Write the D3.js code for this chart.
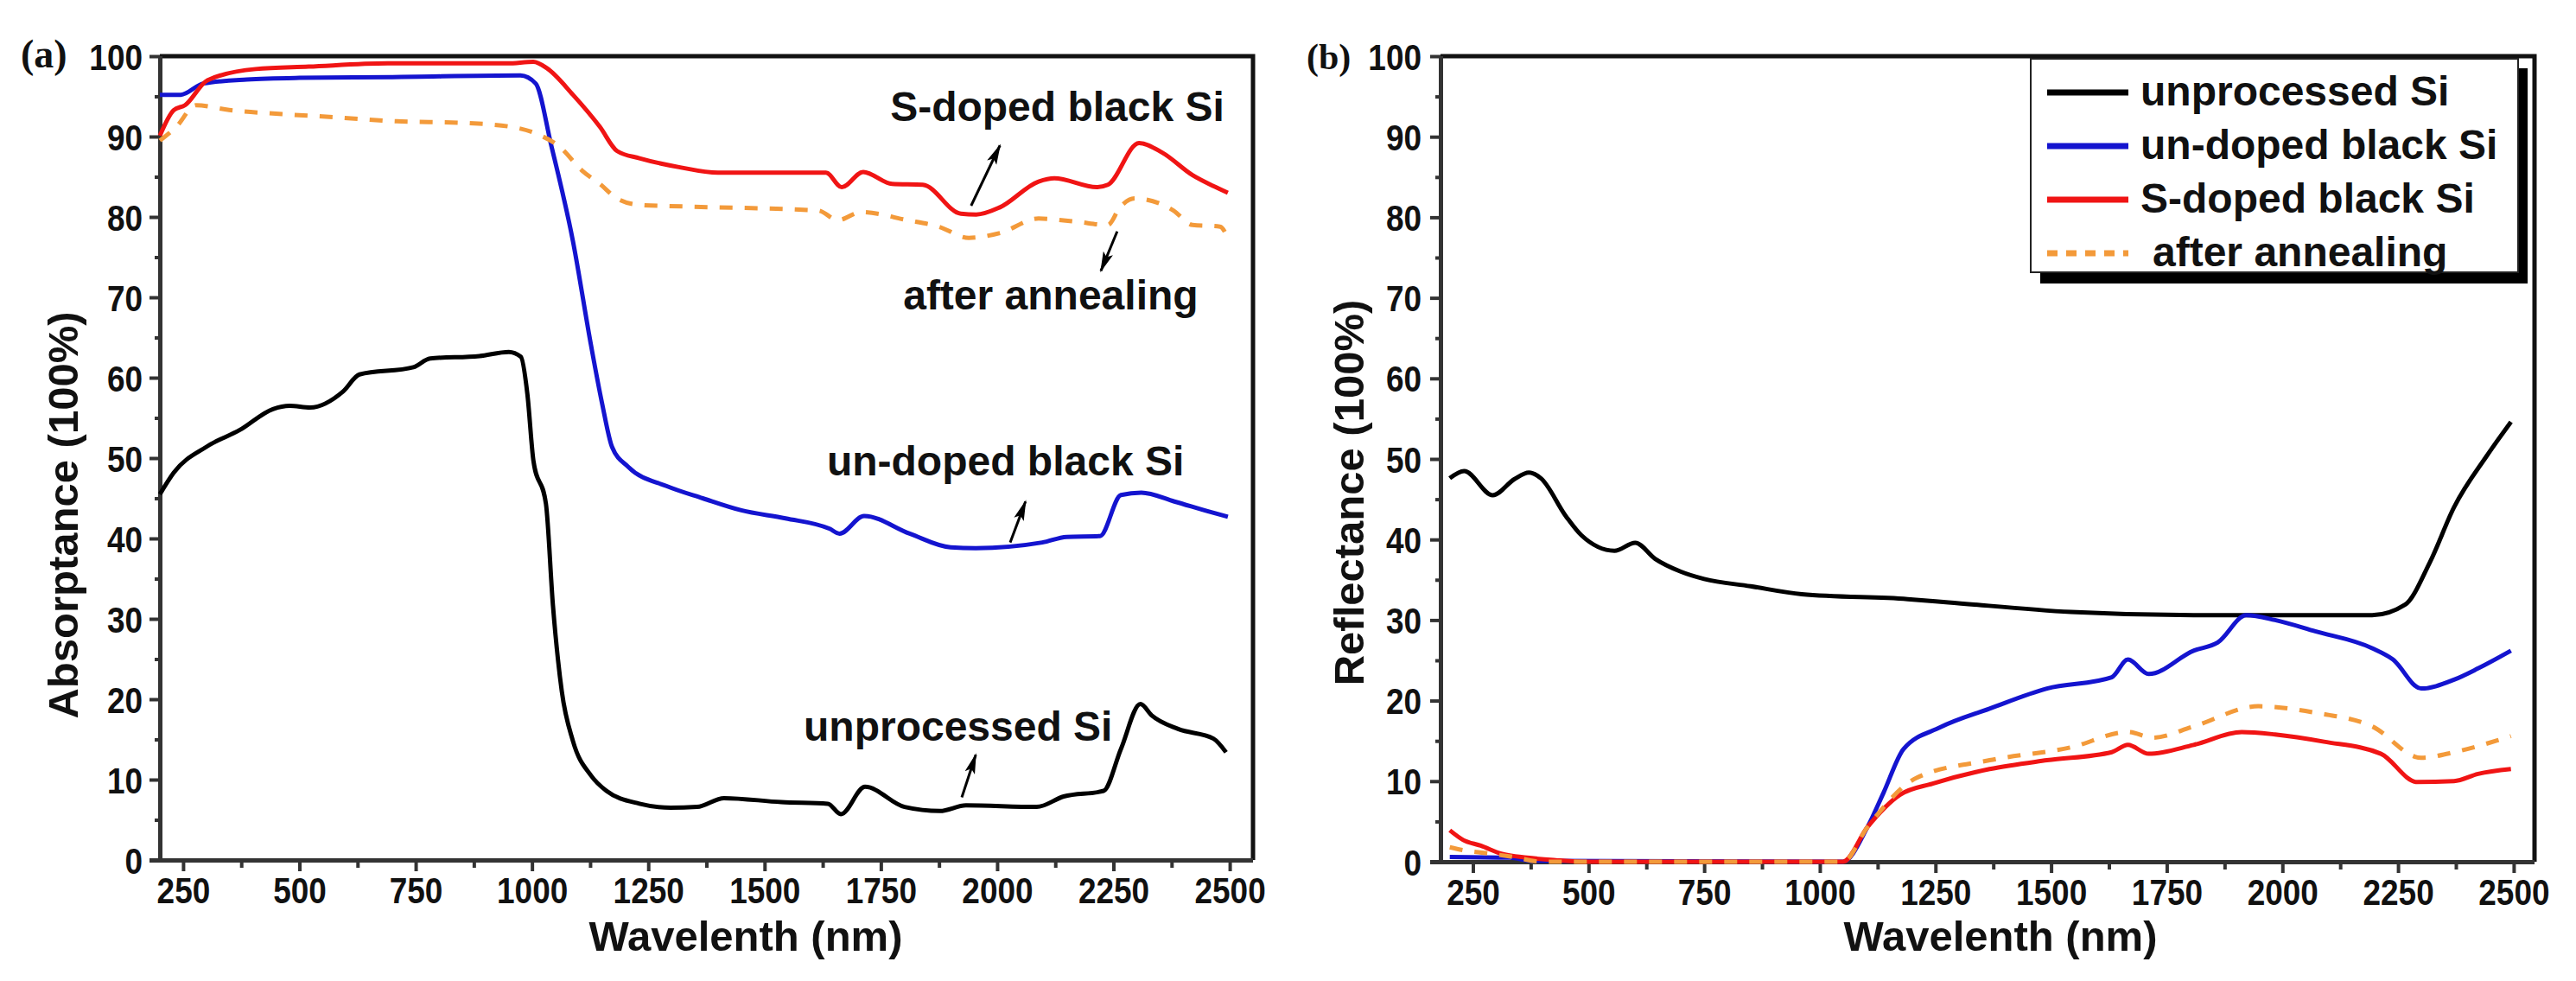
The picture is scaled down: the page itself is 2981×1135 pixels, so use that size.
<!DOCTYPE html>
<html><head><meta charset="utf-8">
<script src="https://cdn.jsdelivr.net/npm/d3@7/dist/d3.min.js"></script>
<style>body{margin:0;background:#fff}</style>
</head><body>
<svg id="c" width="2981" height="1135" xmlns="http://www.w3.org/2000/svg"></svg>
<script>
// ---------- DATA ----------
const xTicks = [250,500,750,1000,1250,1500,1750,2000,2250,2500];
const xMinorTicks = [375,625,875,1125,1375,1625,1875,2125,2375];
const yTicks = [0,10,20,30,40,50,60,70,80,90,100];
const yMinorTicks = [5,15,25,35,45,55,65,75,85,95];
const seriesNames = ["unprocessed Si","un-doped black Si","S-doped black Si","after annealing"];
const panelLabels = ["(a)","(b)"];
const xTitle = "Wavelenth (nm)";
const yTitles = ["Absorptance (100%)","Reflectance (100%)"];

// Panel (a): absorptance
const absUnprocessed = [[200,45.5],[230,48.2],[300,51.4],[372,53.5],[443,56.1],[479,56.5],[523,56.3],[594,58.3],[629,60.4],[745,61.3],[781,62.4],[887,62.7],[950,63.2],[976,62.6],[990,58],[1003,49.7],[1030,44.3],[1045,31.7],[1064,21],[1088,14.8],[1127,10.5],[1160,8.6],[1231,7.0],[1298,6.5],[1355,6.6],[1413,7.7],[1536,7.2],[1636,7.0],[1664,5.7],[1716,9.1],[1801,6.6],[1877,6.1],[1933,6.8],[2085,6.6],[2143,7.9],[2229,8.6],[2266,13.8],[2308,19.4],[2332,18.0],[2389,16.3],[2465,15.1],[2492,13.4]];
const absUndoped = [[200,95.2],[245,95.2],[293,96.6],[387,97.1],[500,97.3],[700,97.4],[975,97.6],[1008,96.6],[1041,89],[1088,77],[1127,64],[1150,57],[1172,51.4],[1207,48.9],[1290,46.5],[1367,45],[1450,43.5],[1545,42.5],[1640,41.2],[1661,40.6],[1714,42.8],[1812,40.6],[1900,38.9],[1954,38.8],[2097,39.5],[2149,40.2],[2221,40.3],[2266,45.4],[2310,45.7],[2381,44.6],[2452,43.4],[2496,42.7]];
const absSdoped = [[200,90.1],[230,93.3],[254,93.9],[302,97],[406,98.4],[520,98.7],[690,99.1],[947,99.1],[1003,99.3],[1032,98.5],[1088,95.2],[1146,91.2],[1183,88.2],[1231,87.3],[1316,86.2],[1400,85.5],[1632,85.5],[1666,83.7],[1712,85.6],[1774,84.1],[1840,84.0],[1922,80.4],[1955,80.3],[2006,81.2],[2089,84.4],[2123,84.8],[2214,83.7],[2238,84.0],[2305,89.2],[2355,88.0],[2420,85.2],[2470,83.7],[2496,83.0]];
const absAnnealed = [[200,89.5],[235,91.2],[278,93.9],[349,93.3],[463,92.8],[577,92.4],[709,91.9],[852,91.7],[956,91.2],[1012,90.3],[1060,88.7],[1107,85.8],[1146,84.1],[1183,82.3],[1231,81.5],[1326,81.3],[1615,80.8],[1658,79.6],[1707,80.6],[1807,79.6],[1874,78.8],[1939,77.4],[2006,78.0],[2089,79.8],[2171,79.4],[2238,79.0],[2264,81.2],[2296,82.3],[2379,80.8],[2420,79.0],[2479,78.8],[2496,77.4]];

// Panel (b): reflectance
const refUnprocessed = [[200,47.6],[231,48.5],[293,45.5],[340,47.5],[371,48.3],[397,47.6],[451,42.9],[485,40.5],[556,38.6],[601,39.6],[644,37.6],[700,36],[750,35.1],[850,34.2],[961,33.2],[1190,32.6],[1278,32.2],[1543,31.0],[1808,30.6],[2194,30.6],[2265,31.9],[2319,37.2],[2371,44.0],[2442,50.4],[2494,54.6]];
const refUndoped = [[200,0.6],[330,0.5],[380,0.1],[1050,0],[1103,4.3],[1138,8.6],[1181,14.0],[1261,16.7],[1367,19.0],[1491,21.5],[1631,22.9],[1666,25.1],[1711,23.3],[1808,26.2],[1860,27.2],[1922,30.6],[1984,30.0],[2071,28.6],[2194,26.5],[2239,25.1],[2300,21.5],[2371,22.6],[2423,24.0],[2494,26.2]];
const refSdoped = [[200,3.9],[229,2.7],[267,2.0],[311,1.0],[367,0.5],[429,0.2],[500,0],[1050,0],[1103,4.3],[1173,8.3],[1244,9.7],[1367,11.5],[1491,12.6],[1631,13.6],[1666,14.5],[1711,13.4],[1808,14.5],[1912,16.1],[1984,15.8],[2090,14.9],[2213,13.4],[2291,9.9],[2371,10.0],[2423,10.9],[2494,11.5]];
const refAnnealed = [[200,1.8],[243,1.3],[274,1.1],[336,0.6],[400,0],[1050,0],[1103,4.3],[1209,10.4],[1367,12.6],[1543,14.2],[1666,16.1],[1720,15.4],[1808,16.8],[1948,19.3],[2071,18.5],[2194,16.8],[2300,12.9],[2371,13.6],[2494,15.6]];

// Annotations for panel (a): text anchor [nm,%], arrow start [nm,%], arrow tip [nm,%]
const annoLabels = ["S-doped black Si","after annealing","un-doped black Si","unprocessed Si"];
const annoText = [[1770,91.9],[1798,68.5],[1634,47.8],[1584,14.8]];
const annoFrom = [[1944,81.4],[2258,78.2],[2028,39.5],[1924,7.8]];
const annoTo   = [[2006,88.9],[2223,73.3],[2061,44.6],[1954,13.1]];

// ---------- STYLE ----------
const colors = ["#000000","#1414cf","#f01414","#f39a3a"];
const dashes = [null,null,null,"15,14"];
const SANS = "'Liberation Sans', Arial, Helvetica, sans-serif";
const SERIF = "'Liberation Serif', 'Times New Roman', serif";
const AX = "#333";

const svg = d3.select("#c");
const defs = svg.append("defs");
defs.append("marker").attr("id","ah").attr("markerUnits","userSpaceOnUse")
  .attr("viewBox","0 0 24 14").attr("markerWidth",24).attr("markerHeight",14)
  .attr("refX",22).attr("refY",7).attr("orient","auto")
  .append("path").attr("d","M0,1 L24,7 L0,13 L5,7 Z").attr("fill","#000");

function panel(cfg){
  const x = d3.scaleLinear().domain(cfg.xdom).range([cfg.left,cfg.right]);
  const y = d3.scaleLinear().domain([0,100]).range([cfg.bottom,cfg.top]);
  const g = svg.append("g");

  g.append("path").attr("d",`M${cfg.left},${cfg.top}H${cfg.right}V${cfg.bottom}`)
    .attr("fill","none").attr("stroke","#111").attr("stroke-width",5);

  g.append("g").attr("transform",`translate(0,${cfg.bottom})`)
    .call(d3.axisBottom(x).tickValues(xMinorTicks).tickSize(9).tickFormat(""))
    .call(s=>{s.select(".domain").remove(); s.selectAll("line").attr("stroke",AX).attr("stroke-width",4);});
  g.append("g").attr("transform",`translate(${cfg.left},0)`)
    .call(d3.axisLeft(y).tickValues(yMinorTicks).tickSize(6).tickFormat(""))
    .call(s=>{s.select(".domain").remove(); s.selectAll("line").attr("stroke",AX).attr("stroke-width",4);});

  const xa = g.append("g").attr("transform",`translate(0,${cfg.bottom})`)
    .call(d3.axisBottom(x).tickValues(xTicks).tickFormat(d3.format("d"))
      .tickSizeInner(13).tickSizeOuter(0).tickPadding(7));
  xa.select(".domain").attr("stroke",AX).attr("stroke-width",5)
    .attr("d",`M${cfg.left-12},0.5H${cfg.right}`);
  xa.selectAll("line").attr("stroke",AX).attr("stroke-width",4);
  xa.selectAll("text").attr("font-family",SANS).attr("font-weight","bold").attr("font-size",42)
    .attr("fill","#111").attr("transform","scale(0.88,1)");

  const ya = g.append("g").attr("transform",`translate(${cfg.left},0)`)
    .call(d3.axisLeft(y).tickValues(yTicks).tickFormat(d3.format("d"))
      .tickSizeInner(12).tickSizeOuter(0).tickPadding(8));
  ya.select(".domain").attr("stroke",AX).attr("stroke-width",5)
    .attr("d",`M0.5,${cfg.bottom}V${cfg.top}`);
  ya.selectAll("line").attr("stroke",AX).attr("stroke-width",4);
  ya.selectAll("text").attr("font-family",SANS).attr("font-weight","bold").attr("font-size",42)
    .attr("fill","#111").attr("x",-cfg.ylabGap/0.88).attr("dy","0.36em").attr("transform","scale(0.88,1)");

  const line = d3.line().x(d=>x(d[0])).y(d=>y(d[1])).curve(d3.curveMonotoneX);
  cfg.order.forEach(i=>{
    g.append("path").datum(cfg.series[i]).attr("d",line)
      .attr("fill","none").attr("stroke",colors[i]).attr("stroke-width",5)
      .attr("stroke-linejoin","round")
      .attr("stroke-dasharray",dashes[i]);
  });

  g.append("text").attr("x",cfg.xTitleX).attr("y",1100).attr("text-anchor","middle")
    .attr("font-family",SANS).attr("font-weight","bold").attr("font-size",49).attr("fill","#111")
    .text(xTitle);
  g.append("text").attr("transform",`translate(${cfg.yTitleX},${cfg.yTitleY}) rotate(-90)`)
    .attr("text-anchor","middle").attr("font-family",SANS).attr("font-weight","bold")
    .attr("font-size",49).attr("fill","#111").text(cfg.yTitle);
  g.append("text").attr("x",cfg.labX).attr("y",cfg.labY)
    .attr("font-family",SERIF).attr("font-weight","bold").attr("font-size",cfg.labSize).attr("fill","#111")
    .text(cfg.label);
  return {x,y,g};
}

const A = panel({xdom:[200,2550],left:185,right:1450,top:65,bottom:995,ylabGap:20,
  series:[absUnprocessed,absUndoped,absSdoped,absAnnealed],order:[0,1,2,3],
  xTitleX:863,yTitleX:90,yTitleY:596,yTitle:yTitles[0],label:panelLabels[0],labX:24,labY:78,labSize:46});

const B = panel({xdom:[180,2545],left:1667,right:2933,top:65,bottom:997,ylabGap:22,
  series:[refUnprocessed,refUndoped,refSdoped,refAnnealed],order:[0,1,2,3],
  xTitleX:2315,yTitleX:1578,yTitleY:570,yTitle:yTitles[1],label:panelLabels[1],labX:1512,labY:80,labSize:42});

annoLabels.forEach((t,i)=>{
  A.g.append("text").attr("x",A.x(annoText[i][0])).attr("y",A.y(annoText[i][1]))
    .attr("font-family",SANS).attr("font-weight","bold").attr("font-size",48).attr("fill","#111").text(t);
  A.g.append("line").attr("x1",A.x(annoFrom[i][0])).attr("y1",A.y(annoFrom[i][1]))
    .attr("x2",A.x(annoTo[i][0])).attr("y2",A.y(annoTo[i][1]))
    .attr("stroke","#000").attr("stroke-width",3).attr("marker-end","url(#ah)");
});

const lg = B.g.append("g").attr("transform","translate(2350,68)");
lg.append("rect").attr("x",11).attr("y",11).attr("width",564).attr("height",249).attr("fill","#000");
lg.append("rect").attr("x",0).attr("y",0).attr("width",564).attr("height",247)
  .attr("fill","#fff").attr("stroke","#222").attr("stroke-width",2);
seriesNames.forEach((n,i)=>{
  const yy = 39 + i*62;
  lg.append("line").attr("x1",19).attr("x2",113).attr("y1",yy).attr("y2",yy)
    .attr("stroke",colors[i]).attr("stroke-width",7)
    .attr("stroke-dasharray", i===3 ? "12,10" : null);
  lg.append("text").attr("x",127 + (i===3?14:0)).attr("y",yy+15)
    .attr("font-family",SANS).attr("font-weight","bold").attr("font-size",48).attr("fill","#111").text(n);
});
</script>
</body></html>
